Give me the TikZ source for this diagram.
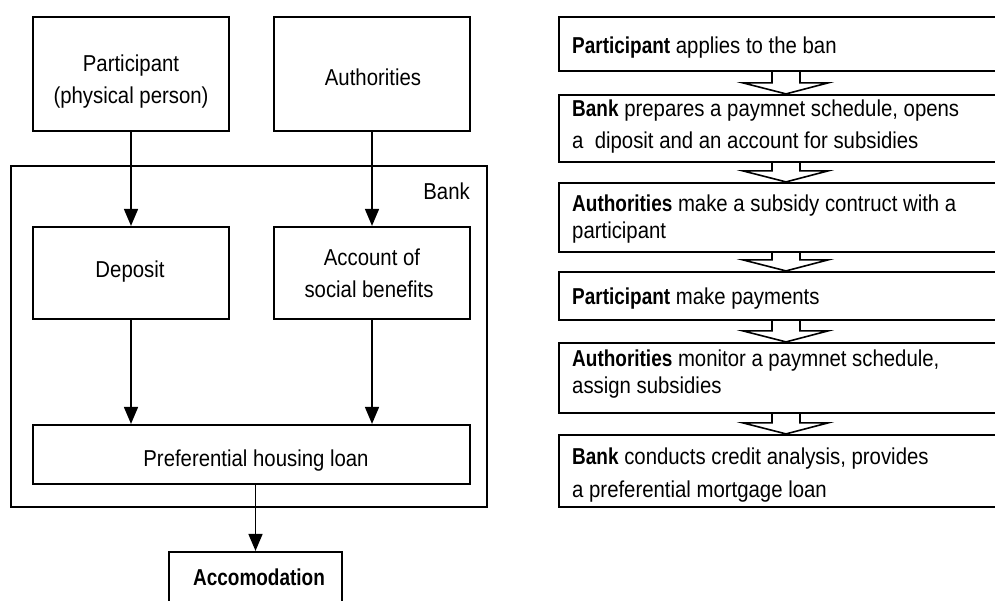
\documentclass[tikz,border=0pt]{standalone}
\usepackage{fontspec}
\setmainfont{Liberation Sans}[FakeStretch=0.885,BoldFeatures={FakeStretch=0.825}]
\usetikzlibrary{arrows.meta,calc}
\newcommand{\barrow}[2]{%
  \draw[blockarrow] ($(ax |- #1.south)+(-14,0)$) -- ($(ax |- #2.north)+(-14,-11)$)
    -- ($(ax |- #2.north)+(-43,-11)$) -- (ax |- #2.north)
    -- ($(ax |- #2.north)+(42,-11)$) -- ($(ax |- #2.north)+(14,-11)$)
    -- ($(ax |- #1.south)+(14,0)$);}
\begin{document}
\begin{tikzpicture}[x=1pt,y=-1pt,
  box/.style={draw, line width=2.2pt, inner sep=0pt},
  txt/.style={inner sep=0pt, font=\fontsize{23}{27}\selectfont},
  flow/.style={line width=1.6pt, -{Triangle[length=17pt,width=14pt]}},
  blockarrow/.style={line width=1.6pt, line join=miter}]
\useasboundingbox (0,0) rectangle (995,600);
\clip (0,0) rectangle (995,600);
\fill[white] (0,0) rectangle (995,600);

% ---------- left diagram ----------
\node[box, minimum width=476pt, minimum height=341pt] (bank) at (249,336.5) {};
\node[box, minimum width=196pt, minimum height=114pt] (part) at (131,74) {};
\node[box, minimum width=196pt, minimum height=114pt] (auth) at (372,74) {};
\node[box, minimum width=196pt, minimum height=92pt] (dep) at (131,273) {};
\node[box, minimum width=196pt, minimum height=92pt] (acc) at (372,273) {};
\node[box, minimum width=437pt, minimum height=59pt] (loan) at (251.5,454.5) {};
\node[box, minimum width=173pt, minimum height=68pt] (accom) at (255.5,586) {};

\node[txt, anchor=base] (tpart1) at (131,71) {Participant};
\node[txt, anchor=base] (tpart2) at (131,103) {(physical person)};
\node[txt, anchor=base] (tauth) at (373,85) {Authorities};
\node[txt, anchor=base east] (tbank) at (470,199) {Bank};
\node[txt, anchor=base] (tdep) at (130,277) {Deposit};
\node[txt, anchor=base] (tacc1) at (372,265) {Account of};
\node[txt, anchor=base] (tacc2) at (369,297) {social benefits};
\node[txt, anchor=base] (tloan) at (256,466) {Preferential housing loan};
\node[txt, anchor=base] (taccom) at (259,585) {\textbf{Accomodation}};

\draw[flow] (part.south) -- (dep.north);
\draw[flow] (auth.south) -- (acc.north);
\draw[flow] (dep.south) -- (dep.south |- loan.north);
\draw[flow] (acc.south) -- (acc.south |- loan.north);
\draw[flow] (accom.north |- loan.south) -- (accom.north);

% ---------- right diagram ----------
\coordinate (ax) at (786,0);
\node[box, minimum width=451pt, minimum height=54pt] (r1) at (784.5,44) {};
\node[box, minimum width=451pt, minimum height=67pt] (r2) at (784.5,128.5) {};
\node[box, minimum width=451pt, minimum height=69pt] (r3) at (784.5,217.5) {};
\node[box, minimum width=451pt, minimum height=48pt] (r4) at (784.5,296) {};
\node[box, minimum width=451pt, minimum height=70pt] (r5) at (784.5,378) {};
\node[box, minimum width=451pt, minimum height=72pt] (r6) at (784.5,471) {};

\node[txt, anchor=base west] (t1) at (572,53) {\textbf{Participant} applies to the ban};
\node[txt, anchor=base west] (t2a) at (572,116) {\textbf{Bank} prepares a paymnet schedule, opens};
\node[txt, anchor=base west] (t2b) at (572,148) {a\ \ diposit and an account for subsidies};
\node[txt, anchor=base west] (t3a) at (572,211) {\textbf{Authorities} make a subsidy contruct with a};
\node[txt, anchor=base west] (t3b) at (572,238) {participant};
\node[txt, anchor=base west] (t4) at (572,304) {\textbf{Participant} make payments};
\node[txt, anchor=base west] (t5a) at (572,366) {\textbf{Authorities} monitor a paymnet schedule,};
\node[txt, anchor=base west] (t5b) at (572,393) {assign subsidies};
\node[txt, anchor=base west] (t6a) at (572,464) {\textbf{Bank} conducts credit analysis, provides};
\node[txt, anchor=base west] (t6b) at (572,497) {a preferential mortgage loan};

\barrow{r1}{r2}
\barrow{r2}{r3}
\barrow{r3}{r4}
\barrow{r4}{r5}
\barrow{r5}{r6}
\end{tikzpicture}
\end{document}
